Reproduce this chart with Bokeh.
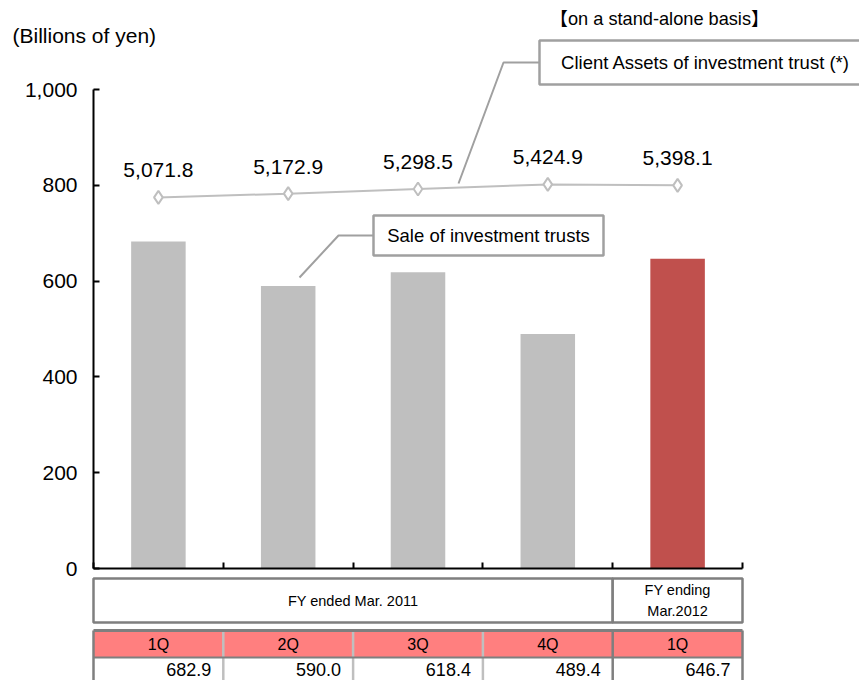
from bokeh.plotting import figure
from bokeh.models import Range1d, FixedTicker, NumeralTickFormatter, ColumnDataSource
from bokeh.embed import file_html
from bokeh.resources import INLINE
from bokeh.core.properties import value

# ---- data ----
quarters = ["1Q", "2Q", "3Q", "4Q", "1Q"]
fiscal_years = ["FY ended Mar. 2011", "FY ending\nMar.2012"]
fiscal_spans = [4, 1]
sales = [682.9, 590.0, 618.4, 489.4, 646.7]              # sale of investment trusts
client_assets = [5071.8, 5172.9, 5298.5, 5424.9, 5398.1]  # client assets of investment trust
bar_colors = ["#BFBFBF", "#BFBFBF", "#BFBFBF", "#BFBFBF", "#C0504D"]
y_ticks = [0, 200, 400, 600, 800, 1000]

# ---- layout ----
W, H = 859, 680
AXIS_X = 93        # page px of the value axis
SLOT = 129.8       # px per quarter slot
BASE_Y = 568       # page px of the zero line
PX_PER_UNIT = 0.479
ASSET_BASE = -5000.0   # hidden secondary scale for the client-assets line
ASSET_RATIO = 13.0

FONT = "Liberation Sans"
FONT_CJK = "Liberation Sans, Noto Sans CJK JP"
BORDER = "#A0A0A0"
DARK = "#7F7F7F"
LIGHT = "#BFBFBF"


def xd(px):
    return (px - AXIS_X) / SLOT


def yd(py):
    return (BASE_Y - py) / PX_PER_UNIT


n = len(quarters)
x_start, x_end = xd(0), xd(W)
y_start, y_end = yd(H), yd(0)

p = figure(width=W, height=H,
           x_range=Range1d(x_start, x_end), y_range=Range1d(y_start, y_end),
           output_backend="svg", toolbar_location=None,
           min_border_left=0, min_border_right=0,
           min_border_top=0, min_border_bottom=0)
p.extra_y_ranges = {"assets": Range1d(ASSET_BASE + ASSET_RATIO * y_start,
                                      ASSET_BASE + ASSET_RATIO * y_end)}
p.outline_line_color = None
p.xgrid.visible = False
p.ygrid.visible = False
p.background_fill_color = "white"

# value axis, pinned at the first slot boundary
ya = p.yaxis[0]
ya.fixed_location = 0
ya.bounds = (0, 1000)
ya.ticker = FixedTicker(ticks=y_ticks)
ya.formatter = NumeralTickFormatter(format="0,0")
ya.major_label_text_font = FONT
ya.major_label_text_font_size = "21px"
ya.major_label_text_color = "black"
ya.major_tick_in = 6
ya.major_tick_out = 0
ya.major_tick_line_width = 2
ya.major_tick_line_color = "black"
ya.minor_tick_line_color = None
ya.axis_line_width = 2
ya.axis_line_color = "black"
ya.major_label_standoff = 16

# category axis on the zero line (slot boundaries only)
xa = p.xaxis[0]
xa.fixed_location = 0
xa.bounds = (0, n)
xa.ticker = FixedTicker(ticks=list(range(n + 1)))
xa.major_label_overrides = {i: "" for i in range(n + 1)}
xa.major_label_text_font_size = "1px"
xa.major_label_standoff = 0
xa.major_tick_in = 6
xa.major_tick_out = 0
xa.major_tick_line_width = 2
xa.major_tick_line_color = "black"
xa.minor_tick_line_color = None
xa.axis_line_width = 2
xa.axis_line_color = "black"

centers = [i + 0.5 for i in range(n)]

# bars
bars = ColumnDataSource(dict(x=centers, top=sales, color=bar_colors))
p.vbar(x="x", top="top", bottom=0, width=0.42, fill_color="color", line_color=None, source=bars)

# client-assets line with value labels
assets = ColumnDataSource(dict(x=centers, y=client_assets,
                               label=[f"{v:,.1f}" for v in client_assets]))
p.line("x", "y", source=assets, y_range_name="assets", line_color=LIGHT, line_width=2)
p.scatter("x", "y", source=assets, y_range_name="assets", marker="diamond", size=13,
          fill_color="white", line_color=LIGHT, line_width=2)
p.text("x", "y", text="label", source=assets, y_range_name="assets", y_offset=-27,
       text_align="center", text_baseline="middle", text_font=value(FONT),
       text_font_size="21px", text_color="black")

# callout: client assets
p.line([xd(539), xd(503), xd(458)], [yd(62), yd(62), yd(183)], line_color=BORDER, line_width=2)
p.quad(left=[xd(539)], right=[xd(880)], top=[yd(40)], bottom=[yd(84)],
       fill_color="white", line_color=BORDER, line_width=2.5)
p.text([xd(705)], [yd(62)], text=["Client Assets of investment trust (*)"],
       text_align="center", text_baseline="middle", text_font=value(FONT),
       text_font_size="18.5px", text_color="black")

# callout: sale of investment trusts
p.line([xd(373), xd(338), xd(299)], [yd(235), yd(235), yd(277)], line_color=BORDER, line_width=2)
p.quad(left=[xd(373)], right=[xd(603)], top=[yd(215)], bottom=[yd(255)],
       fill_color="white", line_color=BORDER, line_width=2.5)
p.text([xd(488)], [yd(235)], text=["Sale of investment trusts"],
       text_align="center", text_baseline="middle", text_font=value(FONT),
       text_font_size="18.5px", text_color="black")

p.text([xd(659)], [yd(18)], text=["【on a stand-alone basis】"],
       text_align="center", text_baseline="middle", text_font=value(FONT_CJK),
       text_font_size="18.2px", text_color="black")

p.text([xd(12)], [yd(35)], text=["(Billions of yen)"],
       text_align="left", text_baseline="middle", text_font=value(FONT),
       text_font_size="21px", text_color="black")

# ---- data table under the chart ----
FY_TOP, FY_BOT = yd(578), yd(622)
HD_TOP, HD_BOT = yd(630), yd(657)
VAL_BOT = yd(720)

lefts, rights, mids = [], [], []
acc = 0
for s in fiscal_spans:
    lefts.append(acc)
    rights.append(acc + s)
    mids.append(acc + s / 2)
    acc += s

p.quad(left=lefts, right=rights, top=FY_TOP, bottom=FY_BOT,
       fill_color="white", line_color=DARK, line_width=2.5)
p.text(mids, [(FY_TOP + FY_BOT) / 2] * len(mids), text=fiscal_years,
       text_align="center", text_baseline="middle", text_font=value(FONT),
       text_font_size="14.5px", text_line_height=1.35, text_color="black")

p.quad(left=list(range(n)), right=[i + 1 for i in range(n)], top=HD_TOP, bottom=HD_BOT,
       fill_color="#FF7F7F", line_color=None)
p.quad(left=list(range(n)), right=[i + 1 for i in range(n)], top=HD_BOT, bottom=VAL_BOT,
       fill_color="white", line_color=None)

dark_x = [0] + rights
light_x = [i for i in range(1, n) if i not in dark_x]
p.segment(x0=light_x, y0=HD_TOP, x1=light_x, y1=VAL_BOT, line_color=LIGHT, line_width=2.5)
p.segment(x0=dark_x, y0=HD_TOP, x1=dark_x, y1=VAL_BOT, line_color=DARK, line_width=2.5)
p.segment(x0=[0, 0], y0=[HD_TOP, HD_BOT], x1=[n, n], y1=[HD_TOP, HD_BOT],
          line_color=DARK, line_width=[3, 2])

p.text(centers, [(HD_TOP + HD_BOT) / 2] * n, text=quarters,
       text_align="center", text_baseline="middle", text_font=value(FONT),
       text_font_size="16px", text_color="black")
p.text([i + 1 for i in range(n)], [yd(669)] * n, text=[f"{v:.1f}" for v in sales],
       x_offset=-12, text_align="right", text_baseline="middle", text_font=value(FONT),
       text_font_size="18px", text_color="black")

open("out.html", "w").write(file_html(p, INLINE))
